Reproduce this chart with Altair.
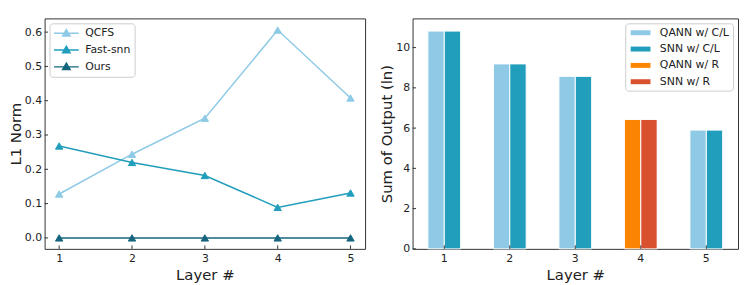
import altair as alt
import pandas as pd

# ---------------- data ----------------
layers = [1, 2, 3, 4, 5]
methods = ["QCFS", "Fast-snn", "Ours"]
qcfs = [0.128, 0.244, 0.349, 0.606, 0.408]
fast_snn = [0.268, 0.220, 0.182, 0.089, 0.131]
ours = [0.0, 0.0, 0.0, 0.0, 0.0]
method_colors = ["#8ecae6", "#219ebc", "#15657e"]

qann_sum = [10.82, 9.19, 8.57, 6.43, 5.90]
snn_sum = [10.82, 9.19, 8.57, 6.43, 5.90]
r_layers = [4]
bar_groups = ["QANN w/ C/L", "SNN w/ C/L", "QANN w/ R", "SNN w/ R"]
bar_colors = ["#8ecae6", "#219ebc", "#fb8500", "#d9502f"]

y1_ticks = [0.0, 0.1, 0.2, 0.3, 0.4, 0.5, 0.6]
y2_ticks = [0, 2, 4, 6, 8, 10]

# ---------------- tables ----------------
rows = []
for name, vals in zip(methods, [qcfs, fast_snn, ours]):
    for l, v in zip(layers, vals):
        rows.append({"Layer": l, "Value": v, "Method": name})
left_df = pd.DataFrame(rows)

brows = []
for l, q, s in zip(layers, qann_sum, snn_sum):
    suffix = "R" if l in r_layers else "C/L"
    brows.append({"Layer": l, "Model": "QANN", "Group": f"QANN w/ {suffix}", "Value": q})
    brows.append({"Layer": l, "Model": "SNN", "Group": f"SNN w/ {suffix}", "Value": s})
bar_df = pd.DataFrame(brows)

FONT = "DejaVu Sans"
TXT = "#222222"
W1, W2, H = 324, 329, 233

# ---------------- left panel ----------------
xs1 = alt.Scale(domain=[0.8, 5.2], nice=False, zero=False)
ys1 = alt.Scale(domain=[-0.032, 0.64], nice=False, zero=False)
cs1 = alt.Scale(domain=methods, range=method_colors)

leg1 = alt.Legend(
    title=None, orient="top-left", offset=5, fillColor="white",
    strokeColor="#cccccc", cornerRadius=3, padding=4, rowPadding=4,
    symbolType="M-2.5,0H2.5M0,-0.75L0.75,0.55H-0.75Z", symbolSize=100,
    symbolStrokeWidth=1.5, symbolOffset=7, labelOffset=13,
    labelFontSize=11, labelColor=TXT, labelFont=FONT,
)

xax1 = alt.Axis(values=layers, format="d", title="Layer #")
yax1 = alt.Axis(values=y1_ticks, format=".1f", title="L1 Norm")

base1 = alt.Chart(left_df)
lines = base1.mark_line(strokeWidth=1.5).encode(
    x=alt.X("Layer:Q", scale=xs1, axis=xax1),
    y=alt.Y("Value:Q", scale=ys1, axis=yax1),
    stroke=alt.Stroke("Method:N", scale=cs1, legend=leg1, sort=methods),
)
pts = base1.mark_point(shape="triangle-up", filled=True, size=55, opacity=1, strokeWidth=1).encode(
    x=alt.X("Layer:Q", scale=xs1, axis=xax1),
    y=alt.Y("Value:Q", scale=ys1, axis=yax1),
    fill=alt.Fill("Method:N", scale=cs1, legend=leg1, sort=methods),
    stroke=alt.Stroke("Method:N", scale=cs1, legend=leg1, sort=methods),
)
ytk1 = alt.Chart(pd.DataFrame({"Value": y1_ticks})).mark_rule(color="#333333", strokeWidth=1).encode(
    y=alt.Y("Value:Q", scale=ys1, axis=yax1), x=alt.value(0), x2=alt.value(3.5)
)
xtk1 = alt.Chart(pd.DataFrame({"Layer": layers})).mark_rule(color="#333333", strokeWidth=1).encode(
    x=alt.X("Layer:Q", scale=xs1, axis=xax1), y=alt.value(H), y2=alt.value(H - 3.5)
)
left = alt.layer(lines, pts, ytk1, xtk1).properties(width=W1, height=H)

# ---------------- right panel ----------------
xs2 = alt.Scale(paddingInner=0.5, paddingOuter=0.234)
ys2 = alt.Scale(domain=[0, 11.45], nice=False, zero=False)
leg2 = alt.Legend(
    title=None, orient="top-right", offset=5, fillColor="white",
    strokeColor="#cccccc", cornerRadius=3, padding=4, rowPadding=4.5,
    symbolType="M-2,-0.5H2V0.5H-2Z", symbolSize=100, symbolStrokeWidth=0,
    symbolOffset=6, labelOffset=14, labelFontSize=11, labelColor=TXT, labelFont=FONT,
)
xax2 = alt.Axis(labelAngle=0, title="Layer #")
yax2 = alt.Axis(values=y2_ticks, format="d", title="Sum of Output (ln)")

bars = alt.Chart(bar_df).mark_bar(stroke="white", strokeWidth=1).encode(
    x=alt.X("Layer:O", scale=xs2, axis=xax2),
    xOffset=alt.XOffset("Model:N", sort=["QANN", "SNN"], scale=alt.Scale(paddingInner=0, paddingOuter=0)),
    y=alt.Y("Value:Q", scale=ys2, axis=yax2),
    color=alt.Color("Group:N", scale=alt.Scale(domain=bar_groups, range=bar_colors), legend=leg2, sort=bar_groups),
)
ytk2 = alt.Chart(pd.DataFrame({"Value": y2_ticks})).mark_rule(color="#333333", strokeWidth=1).encode(
    y=alt.Y("Value:Q", scale=ys2, axis=yax2), x=alt.value(0), x2=alt.value(3.5)
)
xtk2 = alt.Chart(pd.DataFrame({"Layer": layers})).mark_rule(color="#333333", strokeWidth=1).encode(
    x=alt.X("Layer:O", scale=xs2, axis=xax2), y=alt.value(H), y2=alt.value(H - 3.5)
)
right = alt.layer(bars, ytk2, xtk2).properties(width=W2, height=H)

chart = (
    alt.hconcat(left, right, spacing=13)
    .resolve_scale(color="independent", fill="independent", stroke="independent")
    .resolve_legend(color="independent", fill="independent", stroke="independent")
    .properties(padding={"left": 0, "top": 8, "right": 0, "bottom": 0}, background="white")
    .configure_view(stroke="#333333", strokeWidth=1)
    .configure_axis(
        domain=False, ticks=False, tickSize=0, grid=False,
        labelFont=FONT, labelFontSize=11, labelColor=TXT, labelPadding=3,
        titleFont=FONT, titleFontSize=15, titleFontWeight="normal", titleColor=TXT,
        titlePadding=1,
    )
    .configure_axisX(titlePadding=4, labelPadding=4)
)

chart.save("out.html", embed_options={"renderer": "svg", "actions": False})
